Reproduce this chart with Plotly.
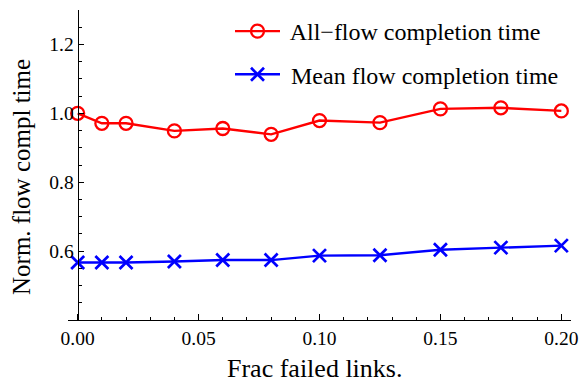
import plotly.graph_objects as go

frac_failed = [0.0, 0.01, 0.02, 0.04, 0.06, 0.08, 0.10, 0.125, 0.15, 0.175, 0.20]
all_flow = [1.000, 0.971, 0.971, 0.949, 0.956, 0.939, 0.979, 0.973, 1.013, 1.016, 1.007]
mean_flow = [0.567, 0.567, 0.567, 0.570, 0.574, 0.574, 0.587, 0.588, 0.604, 0.610, 0.616]

x_ticks = [0.0, 0.05, 0.10, 0.15, 0.20]
x_ticktext = ["0.00", "0.05", "0.10", "0.15", "0.20"]
y_ticks = [0.6, 0.8, 1.0, 1.2]
y_ticktext = ["0.6", "0.8", "1.0", "1.2"]

FONT = "Liberation Serif, serif"

fig = go.Figure()
fig.add_trace(go.Scatter(
    x=frac_failed, y=all_flow, mode="lines+markers",
    name=" All\u2212flow completion time", legendgroup="a",
    line=dict(color="#ff0000", width=2.4),
    marker=dict(symbol="circle-open", size=13, color="#ff0000",
                line=dict(width=2.3, color="#ff0000")),
))
fig.add_trace(go.Scatter(
    x=frac_failed, y=mean_flow, mode="lines+markers",
    name=" Mean flow completion time", legendgroup="b",
    line=dict(color="#0000ff", width=2.4),
    marker=dict(symbol="x-thin", size=13, color="#0000ff",
                line=dict(width=2.7, color="#0000ff")),
))

L, R, T, B = 68, 10, 10, 62
W, H = 581, 382
pw = W - L - R
ph = H - T - B
xr = [-0.004, 0.204]
yr = [0.4, 1.3]

def px_to_paper_x(px):
    return (px - L) / pw

def px_to_paper_y(py):
    return (H - B - py) / ph

yaxis_pos = (0 - xr[0]) / (xr[1] - xr[0])

fig.update_layout(
    width=W, height=H,
    margin=dict(l=L, r=R, t=T, b=B, autoexpand=False),
    paper_bgcolor="white", plot_bgcolor="white",
    font=dict(family=FONT, color="black", size=19),
    showlegend=True,
    legend=dict(
        x=px_to_paper_x(230), y=px_to_paper_y(9),
        xanchor="left", yanchor="top",
        font=dict(size=24, family=FONT),
        bgcolor="rgba(0,0,0,0)",
        tracegroupgap=9,
        itemwidth=45,
    ),
    xaxis=dict(
        range=xr, showline=True, linecolor="black", linewidth=1.2,
        ticks="inside", ticklen=6, tickwidth=1, tickcolor="black",
        tickvals=x_ticks, ticktext=x_ticktext,
        tickfont=dict(size=19.5, family=FONT, color="black"),
        minor=dict(dtick=0.01, tick0=0, ticks="inside", ticklen=3,
                   tickcolor="black", showgrid=False),
        showgrid=False, zeroline=False, mirror=False, automargin=False,
    ),
    yaxis=dict(
        range=yr, showline=True, linecolor="black", linewidth=1.2,
        anchor="free", position=yaxis_pos,
        ticks="inside", ticklen=5, tickwidth=1, tickcolor="black",
        tickvals=y_ticks, ticktext=y_ticktext,
        tickfont=dict(size=19.5, family=FONT, color="black"),
        minor=dict(dtick=0.05, tick0=0.4, ticks="inside", ticklen=3,
                   tickcolor="black", showgrid=False),
        showgrid=False, zeroline=False, automargin=False,
    ),
    annotations=[
        dict(text="Frac failed links.", xref="paper", yref="paper",
             x=px_to_paper_x(314), y=px_to_paper_y(368),
             xanchor="center", yanchor="middle", showarrow=False,
             font=dict(size=26, family=FONT, color="black")),
        dict(text="Norm. flow compl time", xref="paper", yref="paper",
             x=px_to_paper_x(21), y=px_to_paper_y(177),
             xanchor="center", yanchor="middle", showarrow=False,
             textangle=-90, font=dict(size=25, family=FONT, color="black")),
    ],
)

fig.write_html("out.html", config={"displayModeBar": False},
               post_script="document.body.style.margin='0';document.body.style.padding='0';")
